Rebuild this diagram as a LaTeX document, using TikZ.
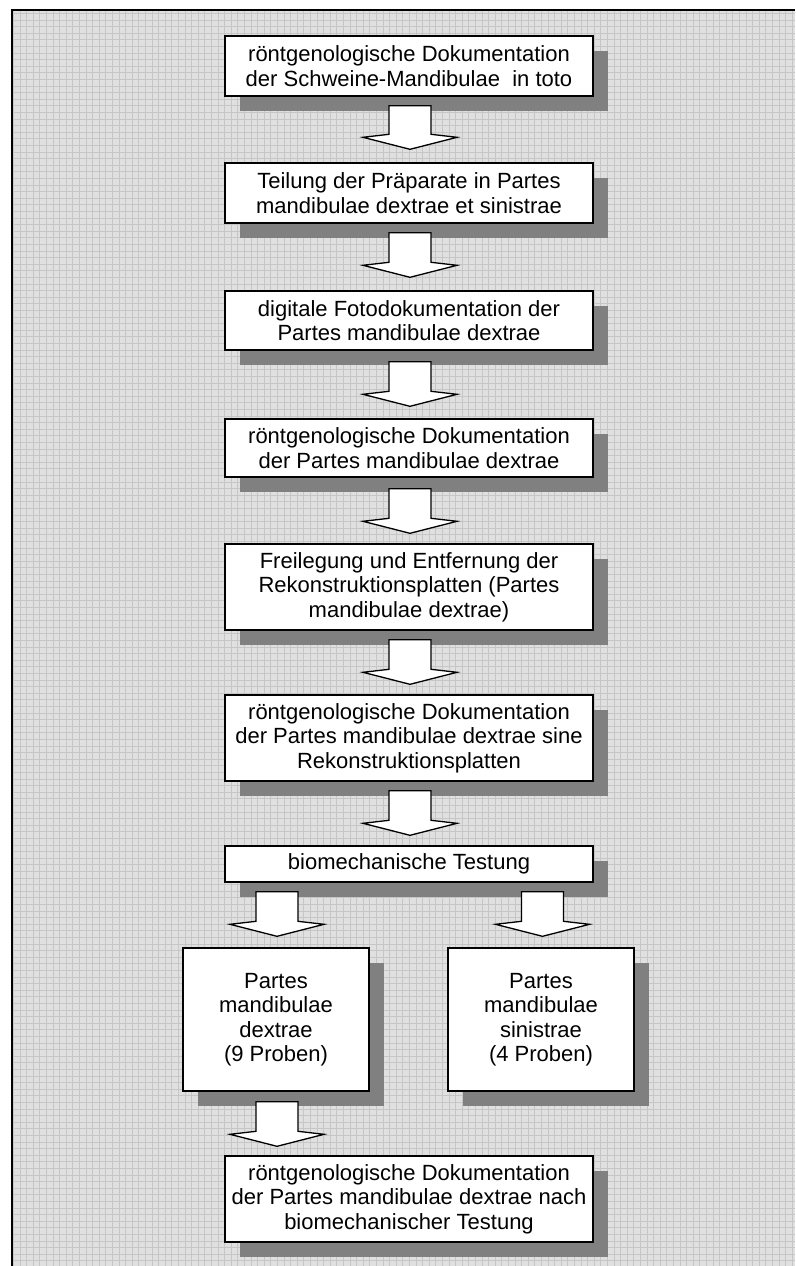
\documentclass[tikz,border=0pt]{standalone}
\usepackage{fontspec}
\setmainfont{Liberation Sans}
\usetikzlibrary{calc,shadows}
\definecolor{bgc}{HTML}{E0E0E0}
\definecolor{gridc}{HTML}{C6C6C6}
\definecolor{shadowc}{HTML}{808080}
\tikzset{
  flowbox/.style={draw=black, line width=1.4pt, fill=white, align=center, inner sep=0pt,
    font=\fontsize{22pt}{24.5pt}\selectfont,
    general shadow={fill=shadowc, draw=none, shadow xshift=15pt, shadow yshift=-15pt}},
  blockarrow/.style={draw=black, fill=white, line width=1.3pt, line join=miter}
}
\newcommand{\barrow}[2]{%
  \draw[blockarrow] let \p1=(#1), \p2=(#2) in
    (\x2-21pt,\y1) -- (\x2+21pt,\y1) -- (\x2+21pt,\y2+15pt) -- (\x2+47pt,\y2+12pt)
    -- (\x2,\y2) -- (\x2-47pt,\y2+12pt) -- (\x2-21pt,\y2+15pt) -- cycle;}
\begin{document}
\begin{tikzpicture}[x=1pt,y=-1pt]
\useasboundingbox (0,0) rectangle (795,1266);
\fill[white] (0,0) rectangle (795,1266);
\fill[bgc] (11,9) rectangle (795,1266);
\begin{scope}
\clip (11,9) rectangle (795,1266);
\draw[gridc, line width=0.6pt] (0,0) grid[step=6.6pt] (795,1266);
\end{scope}
\draw[black, line width=2pt] (11.5,1266) -- (11.5,9.5) -- (795,9.5);

\node[flowbox, minimum width=368pt, minimum height=60pt] (b1) at (409,66)
  {röntgenologische Dokumentation\\der Schweine-Mandibulae \ in toto};
\node[flowbox, minimum width=368pt, minimum height=60pt] (b2) at (409,193)
  {Teilung der Präparate in Partes\\mandibulae dextrae et sinistrae};
\node[flowbox, minimum width=368pt, minimum height=59pt] (b3) at (409,320.5)
  {digitale Fotodokumentation der\\Partes mandibulae dextrae};
\node[flowbox, minimum width=368pt, minimum height=58pt] (b4) at (409,448)
  {röntgenologische Dokumentation\\der Partes mandibulae dextrae};
\node[flowbox, minimum width=368pt, minimum height=86pt] (b5) at (409,587)
  {Freilegung und Entfernung der\\Rekonstruktionsplatten (Partes\\mandibulae dextrae)};
\node[flowbox, minimum width=368pt, minimum height=86pt] (b6) at (409,738)
  {röntgenologische Dokumentation\\der Partes mandibulae dextrae sine\\Rekonstruktionsplatten};
\node[flowbox, minimum width=368pt, minimum height=36pt] (b7) at (409,864)
  {biomechanische Testung};
\node[flowbox, minimum width=186pt, minimum height=143pt] (b8) at (276,1019.5)
  {Partes\\mandibulae\\dextrae\\(9 Proben)};
\node[flowbox, minimum width=186pt, minimum height=143pt] (b9) at (541,1019.5)
  {Partes\\mandibulae\\sinistrae\\(4 Proben)};
\node[flowbox, minimum width=368pt, minimum height=86pt] (b10) at (409,1199)
  {röntgenologische Dokumentation\\der Partes mandibulae dextrae nach\\biomechanischer Testung};

\coordinate (a1s) at ($(b1.south)+(1,9)$);   \coordinate (a1e) at ($(b2.north)+(1,-13)$);
\coordinate (a2s) at ($(b2.south)+(1,9)$);   \coordinate (a2e) at ($(b3.north)+(1,-13)$);
\coordinate (a3s) at ($(b3.south)+(1,11)$);  \coordinate (a3e) at ($(b4.north)+(1,-12)$);
\coordinate (a4s) at ($(b4.south)+(1,11)$);  \coordinate (a4e) at ($(b5.north)+(1,-10)$);
\coordinate (a5s) at ($(b5.south)+(1,9)$);   \coordinate (a5e) at ($(b6.north)+(1,-10)$);
\coordinate (a6s) at ($(b6.south)+(1,9)$);   \coordinate (a6e) at ($(b7.north)+(1,-10)$);
\coordinate (a7s) at ($(b8.north |- b7.south)+(1,9)$);  \coordinate (a7e) at ($(b8.north)+(1,-11)$);
\coordinate (a8s) at ($(b9.north |- b7.south)+(1.5,9)$); \coordinate (a8e) at ($(b9.north)+(1.5,-11)$);
\coordinate (a9s) at ($(b8.south)+(1,10)$);  \coordinate (a9e) at ($(b10.north -| b8.south)+(1,-9)$);

\barrow{a1s}{a1e}
\barrow{a2s}{a2e}
\barrow{a3s}{a3e}
\barrow{a4s}{a4e}
\barrow{a5s}{a5e}
\barrow{a6s}{a6e}
\barrow{a7s}{a7e}
\barrow{a8s}{a8e}
\barrow{a9s}{a9e}
\end{tikzpicture}
\end{document}
